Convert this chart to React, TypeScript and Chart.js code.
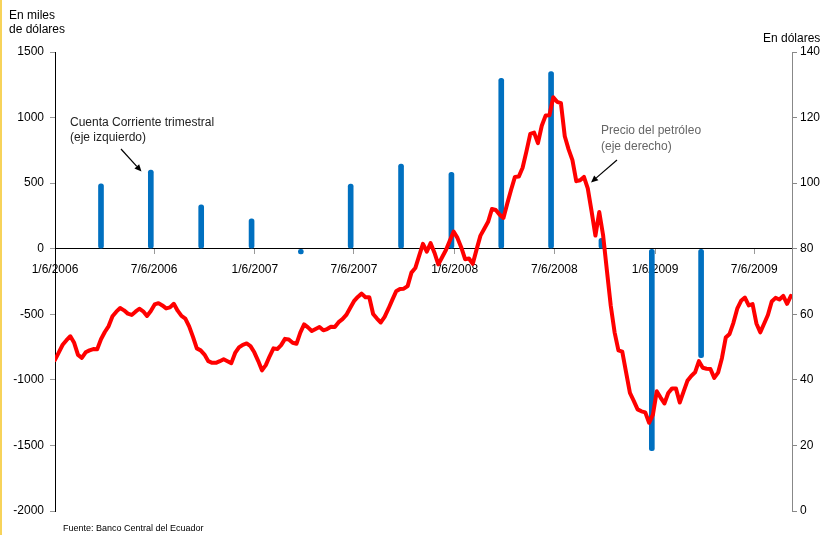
import { useEffect, useRef } from 'react';
import { Chart, registerables } from 'chart.js';

Chart.register(...registerables);

const FONT = "'Liberation Sans', Arial, Helvetica, sans-serif";

// Time axis: values are days counted from the first tick date
const START_DATE = '2006-01-06';
const END_DATE = '2009-09-13';
const xTickDates = ['2006-01-06', '2006-07-06', '2007-01-06', '2007-07-06', '2008-01-06', '2008-07-06', '2009-01-06', '2009-07-06'];
const xTickLabels = ['1/6/2006', '7/6/2006', '1/6/2007', '7/6/2007', '1/6/2008', '7/6/2008', '1/6/2009', '7/6/2009'];

// Quarterly current account balance (thousands of dollars, left axis)
const quarterDates = [
  '2006-03-31', '2006-06-30', '2006-09-30', '2006-12-31',
  '2007-03-31', '2007-06-30', '2007-09-30', '2007-12-31',
  '2008-03-31', '2008-06-30', '2008-09-30', '2008-12-31',
  '2009-03-31',
];
const currentAccount = [495, 600, 335, 228, -40, 493, 646, 582, 1300, 1350, 80, -1540, -830];

// Weekly oil price (dollars, right axis), one value per Friday from START_DATE
const oilWeeklyStep = 7;
const oilPrice = [
  46.1, 48.4, 50.7, 52.1, 53.3, 51.3, 47.6, 46.7, 48.4, 49.0,
  49.4, 49.3, 52.4, 54.6, 56.4, 59.4, 60.8, 61.9, 61.2, 60.2,
  59.8, 60.8, 61.7, 60.9, 59.5, 61.0, 63.0, 63.4, 62.7, 61.8,
  62.1, 63.2, 61.1, 59.5, 58.7, 56.3, 53.1, 49.6, 49.0, 47.7,
  45.7, 45.2, 45.2, 45.7, 46.3, 45.7, 45.1, 48.2, 49.9, 50.7,
  51.1, 50.3, 48.4, 45.8, 42.9, 44.5, 47.2, 49.6, 49.4, 50.6,
  52.5, 52.3, 51.3, 51.0, 54.4, 56.9, 56.0, 54.9, 55.5, 56.1,
  55.1, 55.5, 56.2, 56.1, 57.6, 58.5, 59.8, 61.9, 64.0, 65.3,
  66.3, 65.2, 65.2, 60.1, 58.7, 57.5, 59.2, 61.7, 64.4, 67.0,
  67.7, 67.8, 68.6, 72.7, 74.1, 77.8, 81.5, 79.1, 81.7, 78.8,
  75.2, 77.4, 79.6, 82.4, 85.2, 83.3, 80.4, 76.8, 77.0, 75.4,
  79.8, 84.0, 86.1, 88.2, 92.1, 91.8, 90.4, 89.4, 93.8, 98.0,
  101.9, 102.0, 104.7, 109.7, 115.0, 115.4, 112.2, 117.5, 120.6, 120.7,
  126.2, 124.8, 124.4, 114.3, 110.3, 107.0, 100.6, 100.9, 101.9, 98.4,
  91.4, 84.0, 91.2, 84.1, 73.3, 62.6, 54.5, 49.0, 48.6, 42.3,
  36.0, 33.6, 31.0, 30.4, 30.1, 26.9, 29.4, 36.5, 34.6, 32.8,
  36.0, 37.4, 37.4, 33.1, 36.4, 39.7, 41.2, 42.3, 45.7, 43.7,
  43.4, 43.3, 40.6, 42.2, 46.6, 52.9, 54.0, 57.4, 61.7, 64.1,
  65.1, 62.7, 63.1, 57.2, 54.5, 57.1, 59.8, 63.9, 65.0, 64.5,
  65.6, 63.2, 65.6,
];

const leftTicks = { min: -2000, max: 1500, step: 500 };
const rightTicks = { min: 0, max: 140, step: 20 };

const DAY_MS = 86400000;
const dayOf = (iso: string) =>
  Math.round((Date.parse(iso + 'T00:00:00Z') - Date.parse(START_DATE + 'T00:00:00Z')) / DAY_MS);

function drawArrow(ctx: CanvasRenderingContext2D, x1: number, y1: number, x2: number, y2: number) {
  const ang = Math.atan2(y2 - y1, x2 - x1);
  const head = 7;
  const half = 3.2;
  const bx = x2 - head * Math.cos(ang);
  const by = y2 - head * Math.sin(ang);
  ctx.save();
  ctx.strokeStyle = '#000';
  ctx.fillStyle = '#000';
  ctx.lineWidth = 1.2;
  ctx.beginPath();
  ctx.moveTo(x1, y1);
  ctx.lineTo(bx, by);
  ctx.stroke();
  ctx.beginPath();
  ctx.moveTo(x2, y2);
  ctx.lineTo(bx + half * Math.sin(ang), by - half * Math.cos(ang));
  ctx.lineTo(bx - half * Math.sin(ang), by + half * Math.cos(ang));
  ctx.closePath();
  ctx.fill();
  ctx.restore();
}

// Axis titles, series callouts and source note
const notesPlugin = {
  id: 'notes',
  afterDraw(chart: Chart) {
    const ctx = chart.ctx;
    ctx.save();
    ctx.textBaseline = 'alphabetic';
    ctx.textAlign = 'left';
    ctx.font = `12px ${FONT}`;
    ctx.fillStyle = '#000';
    ctx.fillText('En miles', 9, 19);
    ctx.fillText('de dólares', 9, 33);
    ctx.fillText('En dólares', 763, 42);

    ctx.fillStyle = '#222';
    ctx.fillText('Cuenta Corriente trimestral', 70, 126);
    ctx.fillText('(eje izquierdo)', 70, 141);

    ctx.fillStyle = '#666';
    ctx.fillText('Precio del petróleo', 601, 134);
    ctx.fillText('(eje derecho)', 601, 150);

    ctx.fillStyle = '#000';
    ctx.font = `9px ${FONT}`;
    ctx.fillText('Fuente: Banco Central del Ecuador', 63, 531);
    ctx.restore();

    drawArrow(ctx, 121, 149, 141.5, 171.5);
    drawArrow(ctx, 617, 160, 591, 182.5);
  },
};

export default function App() {
  const canvasRef = useRef<HTMLCanvasElement | null>(null);

  useEffect(() => {
    document.body.style.margin = '0';
    const canvas = canvasRef.current;
    if (!canvas) return;

    const tickDays = xTickDates.map(dayOf);

    const chart = new Chart(canvas, {
      type: 'bar',
      data: {
        datasets: [
          {
            type: 'line',
            label: 'Precio del petróleo',
            data: oilPrice.map((p, i) => ({ x: i * oilWeeklyStep, y: p })),
            yAxisID: 'y2',
            borderColor: '#FF0000',
            borderWidth: 4,
            pointRadius: 0,
            tension: 0,
            borderJoinStyle: 'round',
            borderCapStyle: 'round',
          },
          {
            type: 'bar',
            label: 'Cuenta Corriente trimestral',
            data: quarterDates.map((d, i) => ({ x: dayOf(d), y: currentAccount[i] })),
            yAxisID: 'y',
            backgroundColor: '#0070C0',
            barThickness: 5,
            borderRadius: 2.5,
            borderSkipped: false,
          },
        ] as any,
      },
      options: {
        responsive: false,
        animation: false,
        devicePixelRatio: 1,
        layout: { padding: { top: 52, bottom: 24, left: 0, right: 0 } },
        plugins: { legend: { display: false }, tooltip: { enabled: false } },
        scales: {
          x: {
            type: 'linear',
            offset: false,
            position: { y: 0 } as any,
            min: 0,
            max: dayOf(END_DATE),
            afterBuildTicks: (scale: any) => {
              scale.ticks = tickDays.map((v) => ({ value: v }));
            },
            ticks: {
              autoSkip: false,
              maxRotation: 0,
              minRotation: 0,
              padding: 9,
              color: '#000',
              font: { family: FONT, size: 12 },
              callback: (_v: any, i: number) => xTickLabels[i],
            },
            grid: { offset: false, drawOnChartArea: false, drawTicks: true, tickLength: 5, color: '#999' },
            border: { display: true, color: '#000', width: 1 },
          },
          y: {
            type: 'linear',
            position: 'left',
            min: leftTicks.min,
            max: leftTicks.max,
            afterFit: (scale: any) => {
              scale.width = 55;
            },
            ticks: {
              stepSize: leftTicks.step,
              padding: 6,
              color: '#000',
              font: { family: FONT, size: 12 },
              callback: (v: any) => String(v),
            },
            grid: { drawOnChartArea: false, drawTicks: true, tickLength: 5, color: '#999' },
            border: { display: true, color: '#000', width: 1 },
          },
          y2: {
            type: 'linear',
            position: 'right',
            min: rightTicks.min,
            max: rightTicks.max,
            afterFit: (scale: any) => {
              scale.width = 30;
            },
            ticks: {
              stepSize: rightTicks.step,
              padding: 3,
              color: '#000',
              font: { family: FONT, size: 12 },
              callback: (v: any) => String(v),
            },
            grid: { drawOnChartArea: false, drawTicks: true, tickLength: 5, color: '#888' },
            border: { display: true, color: '#888', width: 1 },
          },
        },
      },
      plugins: [notesPlugin],
    });

    return () => chart.destroy();
  }, []);

  return (
    <div style={{ position: 'relative', width: 822, height: 535, background: '#fff' }}>
      <div style={{ position: 'absolute', left: 0, top: 0, width: 2, height: 535, background: '#F7D35A' }} />
      <canvas ref={canvasRef} width={822} height={535} style={{ display: 'block' }} />
    </div>
  );
}
